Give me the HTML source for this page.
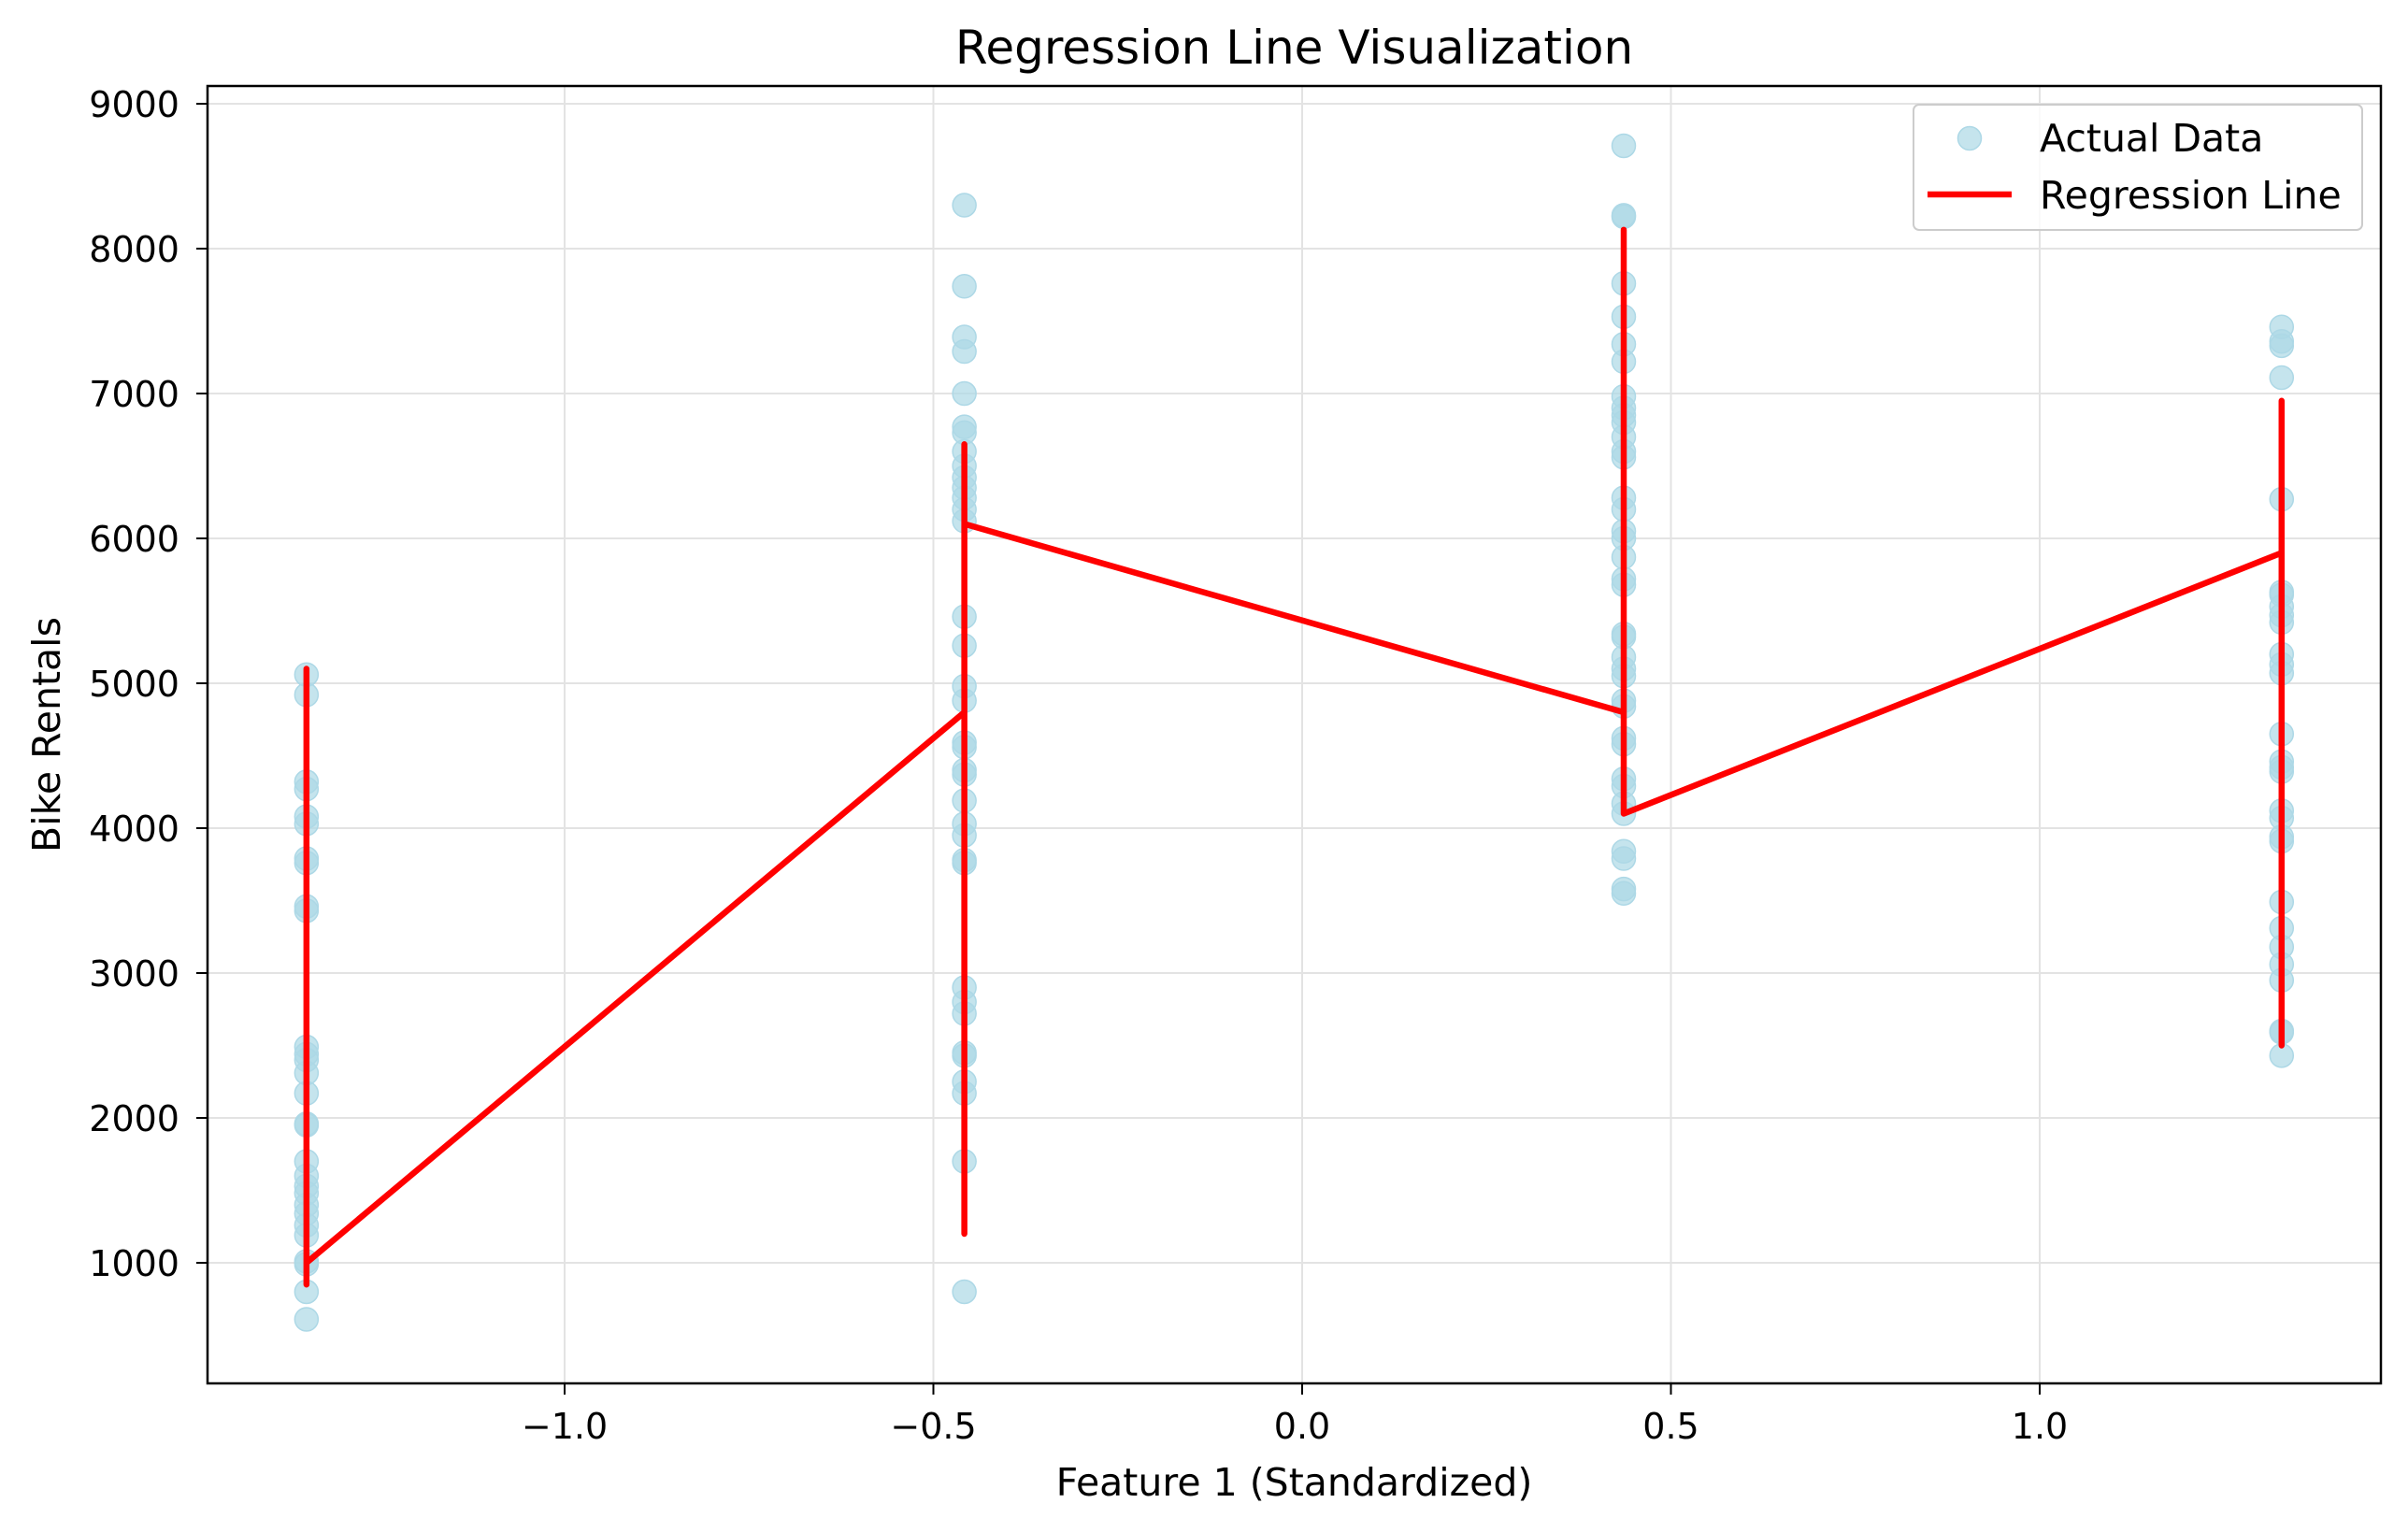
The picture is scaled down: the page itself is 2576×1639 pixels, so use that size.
<!DOCTYPE html>
<html><head><meta charset="utf-8"><style>
body{margin:0;background:#fff}
svg text{font-family:"DejaVu Sans","Liberation Sans",sans-serif;fill:#000}
</style></head><body>
<svg id="chart" width="2576" height="1634" xmlns="http://www.w3.org/2000/svg">
<rect width="2576" height="1634" fill="#fff"/>
<g id="grid"></g><g id="pts"></g><g id="line"></g><g id="axes"></g>
</svg>
<script>
const groupX=[-1.35,-0.458,0.436,1.328];
const group1=[5060,4920,4320,4270,4080,4030,3790,3760,3460,3430,2490,2440,2400,2310,2170,1960,1950,1700,1600,1530,1480,1400,1340,1260,1190,1010,990,800,610];
const group2=[8300,7740,7390,7290,7000,6770,6730,6600,6500,6420,6350,6280,6200,6120,5460,5260,4980,4880,4590,4560,4400,4370,4190,4030,3950,3780,3760,2900,2800,2720,2450,2430,2250,2170,1700,800];
const group3=[8710,8230,8220,7760,7530,7340,7220,6980,6900,6850,6800,6700,6600,6560,6280,6200,6050,6000,5870,5720,5680,5340,5320,5180,5100,5050,4880,4840,4620,4580,4340,4290,4170,4100,3840,3790,3580,3550];
const group4=[7460,7360,7330,7110,6270,5630,5610,5530,5470,5420,5200,5130,5070,4650,4460,4420,4390,4120,4070,3940,3910,3490,3310,3180,3060,2950,2600,2590,2430];
const lineX=[-1.35,-1.35,-1.35,-0.458,-0.458,-0.458,-0.458,0.436,0.436,0.436,1.328,1.328,1.328];
const lineY=[5100,850,1000,4800,1200,6650,6100,4800,8130,4100,5900,2500,6950];
const xTicks=[-1.0,-0.5,0.0,0.5,1.0];
const xTickLabels=["\u22121.0","\u22120.5","0.0","0.5","1.0"];
const yTicks=[1000,2000,3000,4000,5000,6000,7000,8000,9000];

const L=222,R=2547,T=92,B=1480;
const X=v=>1393+v*789;
const Y=v=>1351-(v-1000)*0.155;
const NS="http://www.w3.org/2000/svg";
function mk(tag,attrs,parent,txt){const e=document.createElementNS(NS,tag);for(const k in attrs)e.setAttribute(k,attrs[k]);if(txt!==undefined)e.textContent=txt;parent.appendChild(e);return e;}
const grid=document.getElementById('grid'),pts=document.getElementById('pts'),lg=document.getElementById('line'),ax=document.getElementById('axes');
xTicks.forEach((t,i)=>{
 const g=mk('line',{x1:X(t),x2:X(t),y1:T,y2:B,stroke:'#e3e3e3','stroke-width':2},grid);
 
 
 mk('line',{x1:X(t),x2:X(t),y1:B,y2:B+12,stroke:'#000','stroke-width':2},ax);
 const tl=mk('text',{x:X(t),y:1539,'font-size':38,'text-anchor':'middle'},ax,xTickLabels[i]);
 
 
});
yTicks.forEach(t=>{
 const g=mk('line',{x1:L,x2:R,y1:Y(t),y2:Y(t),stroke:'#e3e3e3','stroke-width':2},grid);
 
 
 mk('line',{x1:L-12,x2:L,y1:Y(t),y2:Y(t),stroke:'#000','stroke-width':2},ax);
 const tl=mk('text',{x:L-30,y:Y(t)+14,'font-size':38,'text-anchor':'end'},ax,String(t));
 
 
});
[group1,group2,group3,group4].forEach((grp,gi)=>{
 grp.forEach(v=>{
  const c=mk('circle',{cx:X(groupX[gi]),cy:Y(v),r:12.5,fill:'#add8e6','fill-opacity':0.7,stroke:'#add8e6','stroke-width':1.5},pts);
  
  
 });
});
const pl=mk('polyline',{points:lineX.map((x,i)=>X(x)+','+Y(lineY[i])).join(' '),fill:'none',stroke:'#ff0000','stroke-width':6.5,'stroke-linejoin':'round','stroke-linecap':'round'},lg);


const fr=mk('rect',{x:L,y:T,width:R-L,height:B-T,fill:'none',stroke:'#000','stroke-width':2.5},ax);


const ti=mk('text',{x:(L+R)/2,y:68,'font-size':50,'text-anchor':'middle'},ax,'Regression Line Visualization');


const xl=mk('text',{x:(L+R)/2,y:1600,'font-size':41,'text-anchor':'middle'},ax,'Feature 1 (Standardized)');


const yl=mk('text',{x:64,y:(T+B)/2,'font-size':41,'text-anchor':'middle',transform:'rotate(-90 64 '+(T+B)/2+')'},ax,'Bike Rentals');


const leg=mk('g',{},ax);


mk('rect',{x:2047,y:112,width:480,height:134,rx:6,fill:'#fff','fill-opacity':0.8,stroke:'#ccc','stroke-width':2},leg);
const le1=mk('circle',{cx:2107,cy:148,r:12.5,fill:'#add8e6','fill-opacity':0.7,stroke:'#add8e6','stroke-width':1.5},leg);


const lt1=mk('text',{x:2182,y:162,'font-size':41},leg,'Actual Data');


const le2=mk('line',{x1:2062,x2:2152,y1:208,y2:208,stroke:'#ff0000','stroke-width':6.5},leg);


const lt2=mk('text',{x:2182,y:223,'font-size':41},leg,'Regression Line');


</script>
</body></html>
